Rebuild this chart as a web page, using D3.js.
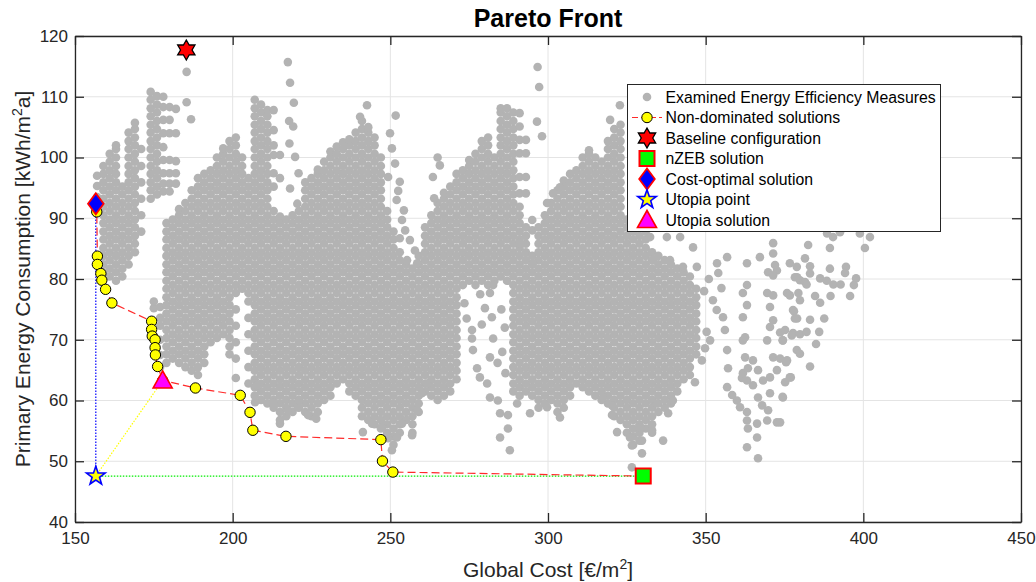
<!DOCTYPE html>
<html>
<head>
<meta charset="utf-8">
<script src="https://cdn.jsdelivr.net/npm/d3@7"></script>
<style>
  body { margin: 0; background: #fff; }
  svg text { font-family: "Liberation Sans", Arial, Helvetica, sans-serif; }
</style>
</head>
<body>
<svg id="chart" width="1036" height="582"></svg>
<script>
// ---- axes ----
const costTicks = [150, 200, 250, 300, 350, 400, 450];
const pecTicks = [40, 50, 60, 70, 80, 90, 100, 110, 120];

// ---- examined measures: [global cost, primary energy values at that cost] ----
const measuresLeft = [
  [157, "93.5 95.3 97.0"],
  [159, "81.1 82.4 83.8 85.1 86.5 87.8 89.2 90.5 91.9 93.2 94.6 95.9 97.3 98.6"],
  [161, "80.4 81.7 83.1 84.4 85.8 87.1 88.5 89.8 91.2 92.5 93.9 95.2 96.6 97.9 99.3 100.6"],
  [163, "79.7 81.1 82.4 83.8 85.1 86.5 87.8 89.2 90.5 91.9 93.2 94.6 95.9 97.3 98.6 100.0 101.4 102.0"],
  [165, "80.4 81.7 83.1 84.4 85.8 87.1 88.5 89.8 91.2 92.5 93.9 95.2"],
  [167, "82.4 83.8 85.1 86.5 87.8 89.2 90.5 91.9 93.2 94.6 95.9 97.3 98.6 100.0 101.4 102.7 104.1"],
  [169, "84.4 85.8 87.1 88.5 89.8 91.2 92.5 93.9 95.2 96.6 97.9 99.3 100.6 102.0 103.3 104.7 105.7"],
  [171, "87.8 90.5 93.2 95.9 98.6 101.4"],
  [174, "93.2 94.6 95.9 97.3 98.6 100.0 101.4 102.7 104.1 105.4 106.8 108.1 109.5 110.8"],
  [176, "93.9 95.2 96.6 97.9 99.3 100.6 102.0 103.3 104.7 106.0 107.4 108.7 110.1"],
  [178, "94.4 95.7 97.4 99.6 101.7 104.0 106.2 108.3 110.0"],
  [180, "94.4 95.7 97.4 99.6 104.0 106.2 108.3"],
  [182, "95.7 97.4 99.4 104.0 108.0"]
];

const measuresMid = [
  [175, "75.2 76.3"],
  [177, "65.5 67.5 70.0 72.3 73.6 75.4"],
  [179, "66.2 67.6 68.9 70.3 71.6 73.0 74.3 75.7 77.0 78.4 79.7 81.1 82.4 83.8 85.1 86.5 87.8 89.2"],
  [181, "66.9 68.2 69.6 70.9 72.3 73.6 75.0 76.3 77.7 79.0 80.4 81.7 83.1 84.4 85.8 87.1 88.5 89.8"],
  [183, "66.2 67.6 68.9 70.3 71.6 73.0 74.3 75.7 77.0 78.4 79.7 81.1 82.4 83.8 85.1 86.5 87.8 89.2 90.5 91.5"],
  [185, "65.5 66.9 68.2 69.6 70.9 72.3 73.6 75.0 76.3 77.7 79.0 80.4 81.7 83.1 84.4 85.8 87.1 88.5 89.8 91.2 92.5"],
  [187, "64.9 66.2 67.6 68.9 70.3 71.6 73.0 74.3 75.7 77.0 78.4 79.7 81.1 82.4 83.8 85.1 86.5 87.8 89.2 90.5 91.9 93.2 94.6"],
  [189, "64.2 65.5 66.9 68.2 69.6 70.9 72.3 73.6 75.0 76.3 77.7 79.0 80.4 81.7 83.1 84.4 85.8 87.1 88.5 89.8 91.2 92.5 93.9 95.2 96.6"],
  [191, "66.2 67.6 68.9 70.3 71.6 73.0 74.3 75.7 77.0 78.4 79.7 81.1 82.4 83.8 85.1 86.5 87.8 89.2 90.5 91.9 93.2 94.6 95.9 97.3"],
  [193, "69.6 70.9 72.3 73.6 75.0 76.3 77.7 79.0 80.4 81.7 83.1 84.4 85.8 87.1 88.5 89.8 91.2 92.5 93.9 95.2 96.6 97.9"],
  [195, "70.3 71.6 73.0 74.3 75.7 77.0 78.4 79.7 81.1 82.4 83.8 85.1 86.5 87.8 89.2 90.5 91.9 93.2 94.6 95.9 97.3 98.6 100.0"],
  [197, "70.9 72.3 73.6 75.0 76.3 77.7 79.0 80.4 81.7 83.1 84.4 85.8 87.1 88.5 89.8 91.2 92.5 93.9 95.2 96.6 97.9 99.3 100.6 101.5"],
  [199, "67.6 68.9 70.3 71.6 73.0 74.3 75.7 77.0 78.4 79.7 81.1 82.4 83.8 85.1 86.5 87.8 89.2 90.5 91.9 93.2 94.6 95.9 97.3 98.6 100.0 101.4 102.7"],
  [201, "63.7 66.9 69.6 72.3 75.0 77.7 79.0 80.4 81.7 83.1 84.4 85.8 87.1 88.5 89.8 91.2 92.5 93.9 95.2 96.6 97.9 99.3 100.6 102.0 103.3"],
  [203, "78.4 79.7 81.1 82.4 83.8 85.1 86.5 87.8 89.2 90.5 91.9 93.2 94.6 95.9 97.3 98.6 100.0"],
  [205, "62.8 65.5 68.2 70.9 73.6 76.3 77.7 79.0 80.4 81.7 83.1 84.4 85.8 87.1 88.5 89.8 91.2 92.5 93.9 95.2 96.6"],
  [207, "60.8 62.2 63.5 64.9 66.2 67.6 68.9 70.3 71.6 73.0 74.3 75.7 77.0 78.4 79.7 81.1 82.4 83.8 85.1 86.5 87.8 89.2 90.5 91.9 93.2 94.6 95.9 97.3 98.6 100.0 101.4 102.7 104.1 105.4 106.8 108.1 109.5"],
  [209, "60.1 61.5 62.8 64.2 65.5 66.9 68.2 69.6 70.9 72.3 73.6 75.0 76.3 77.7 79.0 80.4 81.7 83.1 84.4 85.8 87.1 88.5 89.8 91.2 92.5 93.9 95.2 96.6 97.9 99.3 100.6 102.0 103.3 104.7 106.0 107.4 108.7"],
  [211, "59.5 60.8 62.2 63.5 64.9 66.2 67.6 68.9 70.3 71.6 73.0 74.3 75.7 77.0 78.4 79.7 81.1 82.4 83.8 85.1 86.5 87.8 89.2 90.5 91.9 93.2 94.6 95.9 97.3 98.6 100.0 101.4 102.7 104.1 105.4 106.8 107.8"],
  [213, "58.8 60.1 61.5 62.8 64.2 65.5 66.9 68.2 69.6 70.9 72.3 73.6 75.0 76.3 77.7 79.0 80.4 81.7 83.1 84.4 85.8 87.1 88.5 89.8 91.2 95.2 97.4 100.4 102.0 104.5 107.8"],
  [215, "56.8 58.1 59.5 60.8 62.2 63.5 64.9 66.2 67.6 68.9 70.3 71.6 73.0 74.3 75.7 77.0 78.4 79.7 81.1 82.4 83.8 85.1 86.5 87.8 89.2 90.3 96.6 100.4"],
  [217, "57.4 58.8 60.1 61.5 62.8 64.2 65.5 66.9 68.2 69.6 70.9 72.3 73.6 75.0 76.3 77.7 79.0 80.4 81.7 83.1 84.4 85.8 87.1 88.5 89.8"],
  [219, "58.1 59.5 60.8 62.2 63.5 64.9 66.2 67.6 68.9 70.3 71.6 73.0 74.3 75.7 77.0 78.4 79.7 81.1 82.4 83.8 85.1 86.5 87.8 89.2 90.5"],
  [221, "58.8 60.1 61.5 62.8 64.2 65.5 66.9 68.2 69.6 70.9 72.3 73.6 75.0 76.3 77.7 79.0 80.4 81.7 83.1 84.4 85.8 87.1 88.5 89.8 91.2"],
  [223, "58.1 59.5 60.8 62.2 63.5 64.9 66.2 67.6 68.9 70.3 71.6 73.0 74.3 75.7 77.0 78.4 79.7 81.1 82.4 83.8 85.1 86.5 87.8 89.2 90.5 91.9 93.2 94.6 95.9"],
  [225, "57.4 58.8 60.1 61.5 62.8 64.2 65.5 66.9 68.2 69.6 70.9 72.3 73.6 75.0 76.3 77.7 79.0 80.4 81.7 83.1 84.4 85.8 87.1 88.5 89.8 91.2 92.5 93.9 95.2 96.6"],
  [227, "58.1 59.5 60.8 62.2 63.5 64.9 66.2 67.6 68.9 70.3 71.6 73.0 74.3 75.7 77.0 78.4 79.7 81.1 82.4 83.8 85.1 86.5 87.8 89.2 90.5 91.9 93.2 94.6 95.9 97.3 98.0"],
  [229, "60.1 61.5 62.8 64.2 65.5 66.9 68.2 69.6 70.9 72.3 73.6 75.0 76.3 77.7 79.0 80.4 81.7 83.1 84.4 85.8 87.1 88.5 89.8 91.2 92.5 93.9 95.2 96.6 97.9 99.3"],
  [231, "60.8 62.2 63.5 64.9 66.2 67.6 68.9 70.3 71.6 73.0 74.3 75.7 77.0 78.4 79.7 81.1 82.4 83.8 85.1 86.5 87.8 89.2 90.5 91.9 93.2 94.6 95.9 97.3 98.6 100.0 101.0"],
  [233, "62.8 64.2 65.5 66.9 68.2 69.6 70.9 72.3 73.6 75.0 76.3 77.7 79.0 80.4 81.7 83.1 84.4 85.8 87.1 88.5 89.8 91.2 92.5 93.9 95.2 96.6 97.9 99.3 100.6 101.8"],
  [235, "63.5 64.9 66.2 67.6 68.9 70.3 71.6 73.0 74.3 75.7 77.0 78.4 79.7 81.1 82.4 83.8 85.1 86.5 87.8 89.2 90.5 91.9 93.2 94.6 95.9 97.3 98.6 100.0 101.4 102.5"],
  [237, "61.5 62.8 64.2 65.5 66.9 68.2 69.6 70.9 72.3 73.6 75.0 76.3 77.7 79.0 80.4 81.7 83.1 84.4 85.8 87.1 88.5 89.8 91.2 92.5 93.9 95.2 96.6 97.9 99.3 100.6 102.0 103.0"],
  [239, "60.8 62.2 63.5 64.9 66.2 67.6 68.9 70.3 71.6 73.0 74.3 75.7 77.0 78.4 79.7 81.1 82.4 83.8 85.1 86.5 87.8 89.2 90.5 91.9 93.2 94.6 95.9 97.3 98.6 100.0 101.4 102.7 104.1"],
  [241, "57.4 58.8 60.1 61.5 62.8 64.2 65.5 66.9 68.2 69.6 70.9 72.3 73.6 75.0 76.3 77.7 79.0 80.4 81.7 83.1 84.4 85.8 87.1 88.5 89.8 91.2 92.5 93.9 95.2 96.6 97.9 99.3 100.6 102.0 103.3 104.7 106.0"],
  [243, "56.8 58.1 59.5 60.8 62.2 63.5 64.9 66.2 67.6 68.9 70.3 71.6 73.0 74.3 75.7 77.0 78.4 79.7 81.1 82.4 83.8 85.1 86.5 87.8 89.2 90.5 91.9 93.2 94.6 95.9 97.3 98.6 100.0 101.4 102.7 104.1 105.0"],
  [245, "56.1 57.4 58.8 60.1 61.5 62.8 64.2 65.5 66.9 68.2 69.6 70.9 72.3 73.6 75.0 76.3 77.7 79.0 80.4 81.7 83.1 84.4 85.8 87.1 88.5 89.8 91.2 92.5 93.9 95.2 96.6 97.9 99.3 100.6 102.0 103.3"],
  [247, "55.4 56.8 58.1 59.5 60.8 62.2 63.5 64.9 66.2 67.6 68.9 70.3 71.6 73.0 74.3 75.7 77.0 78.4 79.7 81.1 82.4 83.8 85.1 86.5 87.8 89.2 90.5 91.9 93.2 94.6 95.9 97.3 98.6 100.0"],
  [249, "54.7 56.1 57.4 58.8 60.1 61.5 62.8 64.2 65.5 66.9 68.2 69.6 70.9 72.3 73.6 75.0 76.3 77.7 79.0 80.4 81.7 83.1 84.4 85.8 87.1 88.5 89.8 91.2"]
];

const measuresRight = [
  [251, "52.7 54.1 55.4 56.8 58.1 59.5 60.8 62.2 63.5 64.9 66.2 67.6 68.9 70.3 71.6 73.0 74.3 75.7 77.0 78.4 79.7 81.1 82.4 83.8 85.1 86.5 87.8"],
  [253, "54.7 56.1 57.4 58.8 60.1 61.5 62.8 64.2 65.5 66.9 68.2 69.6 70.9 72.3 73.6 75.0 76.3 77.7 79.0 80.4 81.7 83.1 84.4"],
  [255, "56.8 58.1 59.5 60.8 62.2 63.5 64.9 66.2 67.6 68.9 70.3 71.6 73.0 74.3 75.7 77.0 78.4 79.7 81.1 82.4"],
  [257, "54.7 56.1 57.4 58.8 60.1 61.5 62.8 64.2 65.5 66.9 68.2 69.6 70.9 72.3 73.6 75.0 76.3 77.7 79.0 80.4 81.7"],
  [259, "58.1 59.5 60.8 62.2 63.5 64.9 66.2 67.6 68.9 70.3 71.6 73.0 74.3 75.7 77.0 78.4 79.7 81.1 82.4 83.8"],
  [261, "61.5 62.8 64.2 65.5 66.9 68.2 69.6 70.9 72.3 73.6 75.0 76.3 77.7 79.0 80.4 81.7 83.1 84.4 85.8 87.1 88.5"],
  [263, "60.8 62.2 63.5 64.9 66.2 67.6 68.9 70.3 71.6 73.0 74.3 75.7 77.0 78.4 79.7 81.1 82.4 83.8 85.1 86.5 87.8 89.2 90.5"],
  [265, "60.1 61.5 62.8 64.2 65.5 66.9 68.2 69.6 70.9 72.3 73.6 75.0 76.3 77.7 79.0 80.4 81.7 83.1 84.4 85.8 87.1 88.5 89.8 91.2 92.5"],
  [267, "60.8 62.2 63.5 64.9 66.2 67.6 68.9 70.3 71.6 73.0 74.3 75.7 77.0 78.4 79.7 81.1 82.4 83.8 85.1 86.5 87.8 89.2 90.5 91.9 93.2 94.2"],
  [269, "61.5 62.8 64.2 65.5 66.9 68.2 69.6 70.9 72.3 73.6 75.0 76.3 77.7 79.0 80.4 81.7 83.1 84.4 85.8 87.1 88.5 89.8 91.2 92.5 93.9 95.2"],
  [271, "63.5 64.9 66.2 67.6 68.9 70.3 71.6 73.0 74.3 75.7 77.0 78.4 79.7 81.1 82.4 83.8 85.1 86.5 87.8 89.2 90.5 91.9 93.2 94.6 95.9 97.3"],
  [273, "79.0 80.4 81.7 83.1 84.4 85.8 87.1 88.5 89.8 91.2 92.5 93.9 95.2 96.6 97.9"],
  [275, "79.7 81.1 82.4 83.8 85.1 86.5 87.8 89.2 90.5 91.9 93.2 94.6 95.9 97.3 98.6 99.6"],
  [277, "79.0 80.4 81.7 83.1 84.4 85.8 87.1 88.5 89.8 91.2 92.5 93.9 95.2 96.6 97.9 99.3 100.6"],
  [279, "79.7 81.1 82.4 83.8 85.1 86.5 87.8 89.2 90.5 91.9 93.2 94.6 95.9 97.3 98.6 100.0 101.4 102.7"],
  [281, "79.0 80.4 81.7 83.1 84.4 85.8 87.1 88.5 89.8 91.2 92.5 93.9 95.2 96.6 97.9 99.3 100.6 102.0 103.3"],
  [283, "79.7 81.1 82.4 83.8 85.1 86.5 87.8 89.2 90.5 91.9 93.2 94.6 95.9 97.3 98.6 100.0"],
  [285, "80.4 81.7 83.1 84.4 85.8 87.1 88.5 89.8 91.2 92.5 93.9 95.2 96.6 97.9 99.3 100.6 102.0 103.3 104.7 106.0 107.4 108.1"],
  [287, "79.7 81.1 82.4 83.8 85.1 86.5 87.8 89.2 90.5 91.9 93.2 94.6 95.9 97.3 98.6 100.0 101.4 102.7 104.1 105.4 106.8 108.1"],
  [289, "61.5 62.8 64.2 65.5 66.9 68.2 69.6 70.9 72.3 73.6 75.0 76.3 77.7 79.0 80.4 81.7 83.1 84.4 85.8 87.1 88.5 89.8 91.2 92.5 93.9 95.2 96.6 97.9 99.3 100.6 102.0 103.3 104.7 106.0 107.4"],
  [291, "60.8 62.2 63.5 64.9 66.2 67.6 68.9 70.3 71.6 73.0 74.3 75.7 77.0 78.4 79.7 81.1 82.4 83.8 85.1 86.5 87.8 89.2 90.5 91.9 94.1 96.8 100.7 102.9 105.1 107.3"],
  [293, "61.5 62.8 64.2 65.5 66.9 68.2 69.6 70.9 72.3 73.6 75.0 76.3 77.7 79.0 80.4 81.7 83.1 84.4 85.8 87.1 88.5 94.1 96.8 100.7 102.9"],
  [295, "60.8 62.2 63.5 64.9 66.2 67.6 68.9 70.3 71.6 73.0 74.3 75.7 77.0 78.4 79.7 81.1 82.4 83.8 88.0 89.7"],
  [297, "58.8 60.1 61.5 62.8 64.2 65.5 66.9 68.2 69.6 70.9 72.3 73.6 75.0 76.3 77.7 79.0 80.4 81.7 83.1 84.4 85.8 87.1 88.5"],
  [299, "59.5 60.8 62.2 63.5 64.9 66.2 67.6 68.9 70.3 71.6 73.0 74.3 75.7 77.0 78.4 79.7 81.1 82.4 83.8 85.1 86.5 87.8 89.2 90.5"],
  [301, "60.1 61.5 62.8 64.2 65.5 66.9 68.2 69.6 70.9 72.3 73.6 75.0 76.3 77.7 79.0 80.4 81.7 83.1 84.4 85.8 87.1 88.5 89.8 91.2 92.5"],
  [303, "58.1 59.5 60.8 62.2 63.5 64.9 66.2 67.6 68.9 70.3 71.6 73.0 74.3 75.7 77.0 78.4 79.7 81.1 82.4 83.8 85.1 86.5 87.8 89.2 90.5 91.9 93.2 94.6"],
  [305, "58.8 60.1 61.5 62.8 64.2 65.5 66.9 68.2 69.6 70.9 72.3 73.6 75.0 76.3 77.7 79.0 80.4 81.7 83.1 84.4 85.8 87.1 88.5 89.8 91.2 92.5 93.9 95.2 96.2"],
  [307, "60.8 62.2 63.5 64.9 66.2 67.6 68.9 70.3 71.6 73.0 74.3 75.7 77.0 78.4 79.7 81.1 82.4 83.8 85.1 86.5 87.8 89.2 90.5 91.9 93.2 94.6 95.9 97.3"],
  [309, "62.8 64.2 65.5 66.9 68.2 69.6 70.9 72.3 73.6 75.0 76.3 77.7 79.0 80.4 81.7 83.1 84.4 85.8 87.1 88.5 89.8 91.2 92.5 93.9 95.2 96.6 97.9"],
  [311, "62.2 63.5 64.9 66.2 67.6 68.9 70.3 71.6 73.0 74.3 75.7 77.0 78.4 79.7 81.1 82.4 83.8 85.1 86.5 87.8 89.2 90.5 91.9 93.2 94.6 95.9 97.3 98.6 100.0"],
  [313, "61.5 62.8 64.2 65.5 66.9 68.2 69.6 70.9 72.3 73.6 75.0 76.3 77.7 79.0 80.4 81.7 83.1 84.4 85.8 87.1 88.5 89.8 91.2 92.5 93.9 95.2 96.6 97.9 99.3 100.6 101.2"],
  [315, "60.8 62.2 63.5 64.9 66.2 67.6 68.9 70.3 71.6 73.0 74.3 75.7 77.0 78.4 79.7 81.1 82.4 83.8 85.1 86.5 87.8 89.2 90.5 91.9 93.2 94.6 95.9 97.3 98.6 100.0"],
  [317, "60.1 61.5 62.8 64.2 65.5 66.9 68.2 69.6 70.9 72.3 73.6 75.0 76.3 77.7 79.0 80.4 81.7 83.1 84.4 85.8 87.1 88.5 89.8 91.2 92.5 93.9 95.2 96.6 97.9 99.3"],
  [319, "59.5 60.8 62.2 63.5 64.9 66.2 67.6 68.9 70.3 71.6 73.0 74.3 75.7 77.0 78.4 79.7 81.1 82.4 83.8 85.1 86.5 87.8 89.2 90.5 91.9 93.2 94.6 95.9 97.3 98.6 100.0 101.4 102.7"],
  [321, "57.4 58.8 60.1 61.5 62.8 64.2 65.5 66.9 68.2 69.6 70.9 72.3 73.6 75.0 76.3 77.7 79.0 80.4 81.7 83.1 84.4 85.8 87.1 88.5 89.8 91.2 92.5 93.9 95.2 96.6 97.9 99.3 100.6 102.0 103.3 104.7"],
  [323, "56.8 58.1 59.5 60.8 62.2 63.5 64.9 66.2 67.6 68.9 70.3 71.6 73.0 74.3 75.7 77.0 78.4 79.7 81.1 82.4 83.8 85.1 86.5 87.8 89.2 90.5 91.9 93.2 94.6 95.9 97.3 98.6 100.0 101.4 102.7 104.1 105.4"],
  [325, "54.7 56.1 57.4 58.8 60.1 61.5 62.8 64.2 65.5 66.9 68.2 69.6 70.9 72.3 73.6 75.0 76.3 77.7 79.0 80.4 81.7 83.1 84.4 85.8 87.1 88.5 89.8"],
  [327, "52.7 54.1 55.4 56.8 58.1 59.5 60.8 62.2 63.5 64.9 66.2 67.6 68.9 70.3 71.6 73.0 74.3 75.7 77.0 78.4 79.7 81.1 82.4 83.8 85.1 86.5 87.8 89.2"],
  [329, "53.4 54.7 56.1 57.4 58.8 60.1 61.5 62.8 64.2 65.5 66.9 68.2 69.6 70.9 72.3 73.6 75.0 76.3 77.7 79.0 80.4 81.7 83.1 84.4 85.8 87.1 88.5 89.8"],
  [331, "55.4 56.8 58.1 59.5 60.8 62.2 63.5 64.9 66.2 67.6 68.9 70.3 71.6 73.0 74.3 75.7 77.0 78.4 79.7 81.1 82.4 83.8 85.1 86.5 87.8"],
  [333, "54.7 56.1 57.4 58.8 60.1 61.5 62.8 64.2 65.5 66.9 68.2 69.6 70.9 72.3 73.6 75.0 76.3 77.7 79.0 80.4 81.7 83.1 84.4"],
  [335, "58.1 59.5 60.8 62.2 63.5 64.9 66.2 67.6 68.9 70.3 71.6 73.0 74.3 75.7 77.0 78.4 79.7 81.1 82.4 83.8"],
  [337, "58.8 60.1 61.5 62.8 64.2 65.5 66.9 68.2 69.6 70.9 72.3 73.6 75.0 76.3 77.7 79.0 80.4 81.7 83.1"],
  [339, "59.5 60.8 62.2 63.5 64.9 66.2 67.6 68.9 70.3 71.6 73.0 74.3 75.7 77.0 78.4 79.7 81.1 82.4"],
  [341, "61.5 62.8 64.2 65.5 66.9 68.2 69.6 70.9 72.3 73.6 75.0 76.3 77.7 79.0 80.4 81.7"],
  [343, "63.5 64.9 66.2 67.6 68.9 70.3 71.6 73.0 74.3 75.7 77.0 78.4 79.7 81.1"],
  [345, "64.2 65.5 66.9 68.2 69.6 70.9 72.3 73.6 75.0 76.3 77.7 79.0 80.4"],
  [347, "67.6 68.9 70.3 71.6 73.0 74.3 75.7 77.0 78.4"]
];

// isolated measures around the dense groups: [global cost, primary energy]
const measuresScattered = [
  [185.4, 114.1], [185.4, 109.1], [186.8, 106.3],
  [217.5, 115.7], [218.2, 112.3], [219.4, 109.0], [217.9, 106.0], [219.2, 105.1], [218.0, 102.3],
  [219.8, 100.1], [220.9, 97.4], [218.2, 94.9], [220.5, 92.4],
  [242.6, 108.6], [240.4, 106.7],
  [251.7, 106.9], [249.9, 104.0], [250.5, 101.5], [251.5, 99.0], [249.3, 96.8], [253.0, 96.0],
  [252.5, 94.5], [252.0, 93.0], [254.3, 91.3], [253.7, 89.7], [254.7, 88.0], [253.0, 86.7],
  [256.2, 86.4], [257.8, 84.7], [255.3, 83.1], [258.5, 82.6],
  [263.9, 93.3], [263.5, 96.8], [265.0, 100.0], [265.7, 98.7],
  [296.7, 114.9], [297.2, 111.6], [296.5, 105.9], [298.1, 103.5],
  [322.8, 108.6], [319.7, 106.2],
  [299.7, 92.5], [301.6, 94.1], [303.8, 95.1], [291.1, 85.9], [295.2, 82.6],
  [207.7, 62.5], [207.1, 59.7], [212.8, 59.7], [215.0, 56.2], [217.5, 58.4], [220.7, 58.9],
  [223.9, 57.6], [221.0, 60.0], [226.5, 57.0],
  [241.3, 54.8], [244.2, 56.2], [247.4, 55.6], [249.3, 53.8], [250.5, 51.8], [252.1, 53.9],
  [253.7, 56.2], [256.9, 54.3], [258.5, 58.4], [260.0, 61.2], [261.6, 62.8],
  [275.9, 71.6], [275.9, 70.2], [276.2, 68.3], [277.5, 65.3], [278.4, 63.8], [281.6, 77.7],
  [282.6, 79.0], [280.0, 75.2], [282.2, 73.7], [282.6, 70.2], [281.6, 67.1], [280.7, 62.8],
  [281.6, 60.5], [284.1, 60.0], [284.8, 57.9], [287.3, 57.6], [284.8, 53.9], [287.3, 55.4],
  [287.9, 51.8], [290.2, 59.5], [294.3, 57.9], [299.7, 58.9], [273.5, 76.0], [274.2, 73.5],
  [285.2, 75.0], [286.3, 72.0], [285.5, 68.0], [286.5, 64.5], [284.0, 66.2], [279.0, 72.5],
  [278.5, 77.5],
  [303.8, 57.2], [317.4, 60.5], [320.3, 59.2], [320.3, 57.6], [321.9, 54.8], [326.0, 53.9],
  [326.6, 52.6], [329.2, 55.6], [329.8, 53.4], [333.0, 55.1], [336.5, 53.4], [329.8, 51.3],
  [326.6, 49.0], [334.6, 59.5], [338.1, 57.9], [339.6, 60.0],
  [346.6, 63.0], [348.8, 66.6], [349.8, 68.6],
  [332.4, 86.9], [337.7, 86.9], [341.9, 86.9], [346.0, 85.2], [333.3, 83.1], [338.7, 83.1],
  [342.8, 82.0], [347.2, 82.0], [353.6, 82.6], [356.8, 83.6], [363.1, 82.6], [367.2, 83.6],
  [371.4, 85.9], [371.4, 84.2], [372.6, 81.4], [376.7, 82.6],
  [350.3, 71.3], [351.4, 69.9], [352.3, 76.5], [353.5, 74.9], [351.0, 80.0], [354.0, 81.0],
  [349.5, 78.0], [355.0, 78.5],
  [355.5, 73.7], [356.1, 71.6], [356.8, 68.3], [357.1, 65.3], [356.8, 62.2], [358.4, 60.9],
  [359.9, 60.0], [360.9, 58.9], [363.1, 58.1], [363.1, 56.7], [363.4, 55.4], [363.1, 52.3],
  [366.3, 53.9], [366.6, 50.5], [366.3, 56.2], [369.5, 56.7], [372.6, 56.4], [369.8, 58.4],
  [367.9, 59.2], [366.6, 60.5], [370.4, 61.2], [374.5, 60.5], [365.0, 62.5], [363.1, 63.3],
  [361.5, 63.7], [361.8, 64.5], [363.4, 65.3], [365.0, 66.6], [366.6, 65.0], [368.2, 63.3],
  [370.4, 63.8], [372.6, 65.0], [375.8, 66.6], [376.7, 63.8], [362.5, 67.1], [371.4, 67.1],
  [361.8, 69.9], [362.5, 70.4], [369.5, 69.9], [374.5, 69.9], [377.7, 71.1], [373.6, 71.2],
  [370.4, 72.1], [371.4, 73.2], [370.4, 75.4], [369.5, 77.7], [371.4, 77.3], [375.8, 77.7],
  [377.7, 74.9], [379.0, 73.5], [361.8, 77.7], [363.1, 79.0], [363.1, 75.7], [361.8, 73.7],
  [369.8, 81.1], [371.4, 80.6], [372.0, 82.3], [379.0, 80.3],
  [388.5, 87.5], [392.6, 87.7], [398.9, 87.5], [402.1, 86.9], [390.4, 86.9], [382.5, 85.6],
  [389.4, 85.1], [400.5, 85.1], [381.5, 83.4],
  [378.9, 82.0], [383.1, 82.1], [389.4, 81.7], [394.5, 82.0], [394.2, 81.0], [383.1, 80.9],
  [378.3, 80.3], [379.9, 79.8], [381.5, 79.5], [382.0, 79.1], [386.3, 80.1], [388.4, 79.7],
  [390.5, 79.1], [392.8, 79.1], [397.7, 80.1], [397.0, 79.0], [376.7, 77.3], [379.4, 77.7],
  [379.9, 76.5], [384.7, 77.2], [386.3, 76.1], [389.6, 77.2], [395.8, 77.2], [378.0, 74.7],
  [378.3, 73.5], [383.1, 73.3], [387.6, 73.5], [375.2, 71.6], [377.3, 70.7], [379.9, 70.9],
  [382.0, 71.3], [386.0, 71.3], [374.4, 69.9], [385.0, 69.3], [378.9, 68.3], [379.9, 67.7],
  [373.6, 66.9], [375.5, 66.3], [383.1, 65.6], [375.2, 63.0], [377.0, 63.8], [374.4, 60.6],
  [373.6, 56.4]
];

// ---- Pareto front and reference points: [global cost, primary energy] ----
const nonDominated = [
  [156.6, 92.4], [156.9, 91.05], [157.1, 83.76], [157.1, 82.4], [158.2, 80.9], [158.5, 79.8],
  [159.7, 78.3], [161.7, 76.06], [174.3, 73.05], [174.3, 71.7], [174.5, 70.6], [175.4, 70.0],
  [175.4, 68.7], [175.5, 67.5], [176.2, 65.6], [177.8, 63.3], [188.2, 62.06], [202.4, 60.85],
  [205.5, 58.05], [206.4, 55.1], [216.9, 54.1], [247.0, 53.56], [247.5, 50.03], [250.8, 48.22]
];
const baseline = [185.3, 117.7];
const nzeb = [330.2, 47.56];
const costOptimal = [156.6, 92.4];
const utopiaPoint = [156.6, 47.56];
const utopiaSolution = [177.8, 63.3];

const legendLabels = [
  "Examined Energy Efficiency Measures",
  "Non-dominated solutions",
  "Baseline configuration",
  "nZEB solution",
  "Cost-optimal solution",
  "Utopia point",
  "Utopia solution"
];

// ---- layout ----
const svg = d3.select("#chart");
const plot = { left: 75, right: 1021, top: 36, bottom: 522 };
const x = d3.scaleLinear().domain([150, 450]).range([plot.left, plot.right]);
const y = d3.scaleLinear().domain([40, 120]).range([plot.bottom, plot.top]);
const axisColor = "#262626";
const gridColor = "#e4e4e4";
const greyDot = "#b3b3b3";

const measures = [...measuresLeft, ...measuresMid, ...measuresRight]
  .flatMap(([c, list]) => list.split(" ").map(v => [c, +v]))
  .concat(measuresScattered);

// grid
const grid = svg.append("g");
grid.selectAll(".gx").data(costTicks).join("line")
  .attr("x1", d => x(d)).attr("x2", d => x(d))
  .attr("y1", plot.top).attr("y2", plot.bottom)
  .attr("stroke", gridColor).attr("stroke-width", 1);
grid.selectAll(".gy").data(pecTicks).join("line")
  .attr("x1", plot.left).attr("x2", plot.right)
  .attr("y1", d => y(d)).attr("y2", d => y(d))
  .attr("stroke", gridColor).attr("stroke-width", 1);

// examined measures
svg.append("g").selectAll("circle").data(measures).join("circle")
  .attr("cx", d => x(d[0])).attr("cy", d => y(d[1]))
  .attr("r", 4.3).attr("fill", greyDot);

// utopia construction lines
const line = d3.line().x(d => x(d[0])).y(d => y(d[1]));
svg.append("path").attr("d", line([utopiaPoint, costOptimal]))
  .attr("fill", "none").attr("stroke", "#0000ff").attr("stroke-width", 1.2).attr("stroke-dasharray", "1.5,1.5");
svg.append("path").attr("d", line([utopiaPoint, nzeb]))
  .attr("fill", "none").attr("stroke", "#00ee00").attr("stroke-width", 1.2).attr("stroke-dasharray", "1.5,1.5");
svg.append("path").attr("d", line([utopiaPoint, utopiaSolution]))
  .attr("fill", "none").attr("stroke", "#ffff00").attr("stroke-width", 1.2).attr("stroke-dasharray", "1.5,1.5");

// Pareto front
svg.append("path").attr("d", line([...nonDominated, nzeb]))
  .attr("fill", "none").attr("stroke", "#ff2a2a").attr("stroke-width", 1.2).attr("stroke-dasharray", "8,4");
svg.append("g").selectAll("circle").data(nonDominated).join("circle")
  .attr("cx", d => x(d[0])).attr("cy", d => y(d[1]))
  .attr("r", 5.2).attr("fill", "#ffff00").attr("stroke", "#000").attr("stroke-width", 1);

// marker shapes
function starPath(points, outer, inner) {
  const pts = d3.range(points * 2).map(i => {
    const a = -Math.PI / 2 + i * Math.PI / points;
    const r = i % 2 ? inner : outer;
    return [r * Math.cos(a), r * Math.sin(a)];
  });
  return "M" + pts.map(p => p.join(",")).join("L") + "Z";
}
const shapes = {
  hexagram: starPath(6, 10, 5.77),
  pentagram: starPath(5, 9.8, 3.9),
  diamond: "M0,-10.5L7.8,0L0,10.5L-7.8,0Z",
  triangle: "M0,-9.5L9.5,7.5L-9.5,7.5Z",
  square: "M-7.5,-7.5H7.5V7.5H-7.5Z"
};
const markerStyles = {
  baseline: { d: shapes.hexagram, fill: "#ff0000", stroke: "#000", sw: 1.3 },
  nzeb: { d: shapes.square, fill: "#00ff00", stroke: "#ff0000", sw: 2 },
  costOptimal: { d: shapes.diamond, fill: "#0000ff", stroke: "#ff0000", sw: 1.8 },
  utopiaPoint: { d: shapes.pentagram, fill: "#ffff00", stroke: "#0000ff", sw: 1.6 },
  utopiaSolution: { d: shapes.triangle, fill: "#ff00ff", stroke: "#ff0000", sw: 1.6 }
};
function marker(g, style, cx, cy) {
  g.append("path").attr("d", style.d).attr("transform", `translate(${cx},${cy})`)
    .attr("fill", style.fill).attr("stroke", style.stroke).attr("stroke-width", style.sw)
    .attr("stroke-linejoin", "miter");
}
const special = svg.append("g");
marker(special, markerStyles.baseline, x(baseline[0]), y(baseline[1]));
marker(special, markerStyles.nzeb, x(nzeb[0]), y(nzeb[1]));
marker(special, markerStyles.costOptimal, x(costOptimal[0]), y(costOptimal[1]));
marker(special, markerStyles.utopiaPoint, x(utopiaPoint[0]), y(utopiaPoint[1]));
marker(special, markerStyles.utopiaSolution, x(utopiaSolution[0]), y(utopiaSolution[1]));

// axes box with inward ticks
const tickFont = 17;
const gBottom = svg.append("g").attr("transform", `translate(0,${plot.bottom})`)
  .call(d3.axisBottom(x).tickValues(costTicks).tickSize(-9).tickSizeOuter(0).tickPadding(10));
const gTop = svg.append("g").attr("transform", `translate(0,${plot.top})`)
  .call(d3.axisTop(x).tickValues(costTicks).tickSize(-9).tickSizeOuter(0).tickFormat(""));
const gLeft = svg.append("g").attr("transform", `translate(${plot.left},0)`)
  .call(d3.axisLeft(y).tickValues(pecTicks).tickSize(-9).tickSizeOuter(0).tickPadding(7));
const gRight = svg.append("g").attr("transform", `translate(${plot.right},0)`)
  .call(d3.axisRight(y).tickValues(pecTicks).tickSize(-9).tickSizeOuter(0).tickFormat(""));
[gBottom, gTop, gLeft, gRight].forEach(g => {
  g.select(".domain").attr("stroke", axisColor).attr("stroke-width", 1.3);
  g.selectAll(".tick line").attr("stroke", axisColor).attr("stroke-width", 1.3);
  g.selectAll(".tick text").attr("fill", axisColor).style("font-size", tickFont + "px")
    .style("font-family", '"Liberation Sans", Arial, sans-serif');
});

// titles
svg.append("text").attr("x", 548).attr("y", 27).attr("text-anchor", "middle")
  .style("font-size", "25px").style("font-weight", "bold").attr("fill", "#000")
  .text("Pareto Front");

const xLabel = svg.append("text").attr("x", 548).attr("y", 577).attr("text-anchor", "middle")
  .style("font-size", "21px").attr("fill", axisColor);
xLabel.append("tspan").text("Global Cost [€/m");
xLabel.append("tspan").attr("dy", -8).style("font-size", "14px").text("2");
xLabel.append("tspan").attr("dy", 8).text("]");

const yLabel = svg.append("text").attr("transform", `translate(30,279) rotate(-90)`)
  .attr("text-anchor", "middle").style("font-size", "21px").attr("fill", axisColor);
yLabel.append("tspan").text("Primary Energy Consumption [kWh/m");
yLabel.append("tspan").attr("dy", -8).style("font-size", "14px").text("2");
yLabel.append("tspan").attr("dy", 8).text("a]");

// legend
const lg = svg.append("g");
lg.append("rect").attr("x", 627.5).attr("y", 84.5).attr("width", 313).attr("height", 147)
  .attr("fill", "#fff").attr("stroke", axisColor).attr("stroke-width", 1);
const rowY = i => 97 + i * 20.5;
const mx = 647;
lg.append("circle").attr("cx", mx).attr("cy", rowY(0)).attr("r", 4.3).attr("fill", greyDot);
lg.append("line").attr("x1", 632).attr("x2", 662).attr("y1", rowY(1)).attr("y2", rowY(1))
  .attr("stroke", "#ff2a2a").attr("stroke-width", 1.2).attr("stroke-dasharray", "6,3");
lg.append("circle").attr("cx", mx).attr("cy", rowY(1)).attr("r", 5.2)
  .attr("fill", "#ffff00").attr("stroke", "#000");
marker(lg, markerStyles.baseline, mx, rowY(2));
marker(lg, markerStyles.nzeb, mx, rowY(3));
marker(lg, markerStyles.costOptimal, mx, rowY(4));
marker(lg, markerStyles.utopiaPoint, mx, rowY(5));
marker(lg, markerStyles.utopiaSolution, mx, rowY(6));
lg.selectAll("text.lbl").data(legendLabels).join("text")
  .attr("x", 665.5).attr("y", (d, i) => rowY(i)).attr("dy", "0.35em")
  .style("font-size", "15.8px").attr("fill", "#000").text(d => d);
</script>
</body>
</html>
